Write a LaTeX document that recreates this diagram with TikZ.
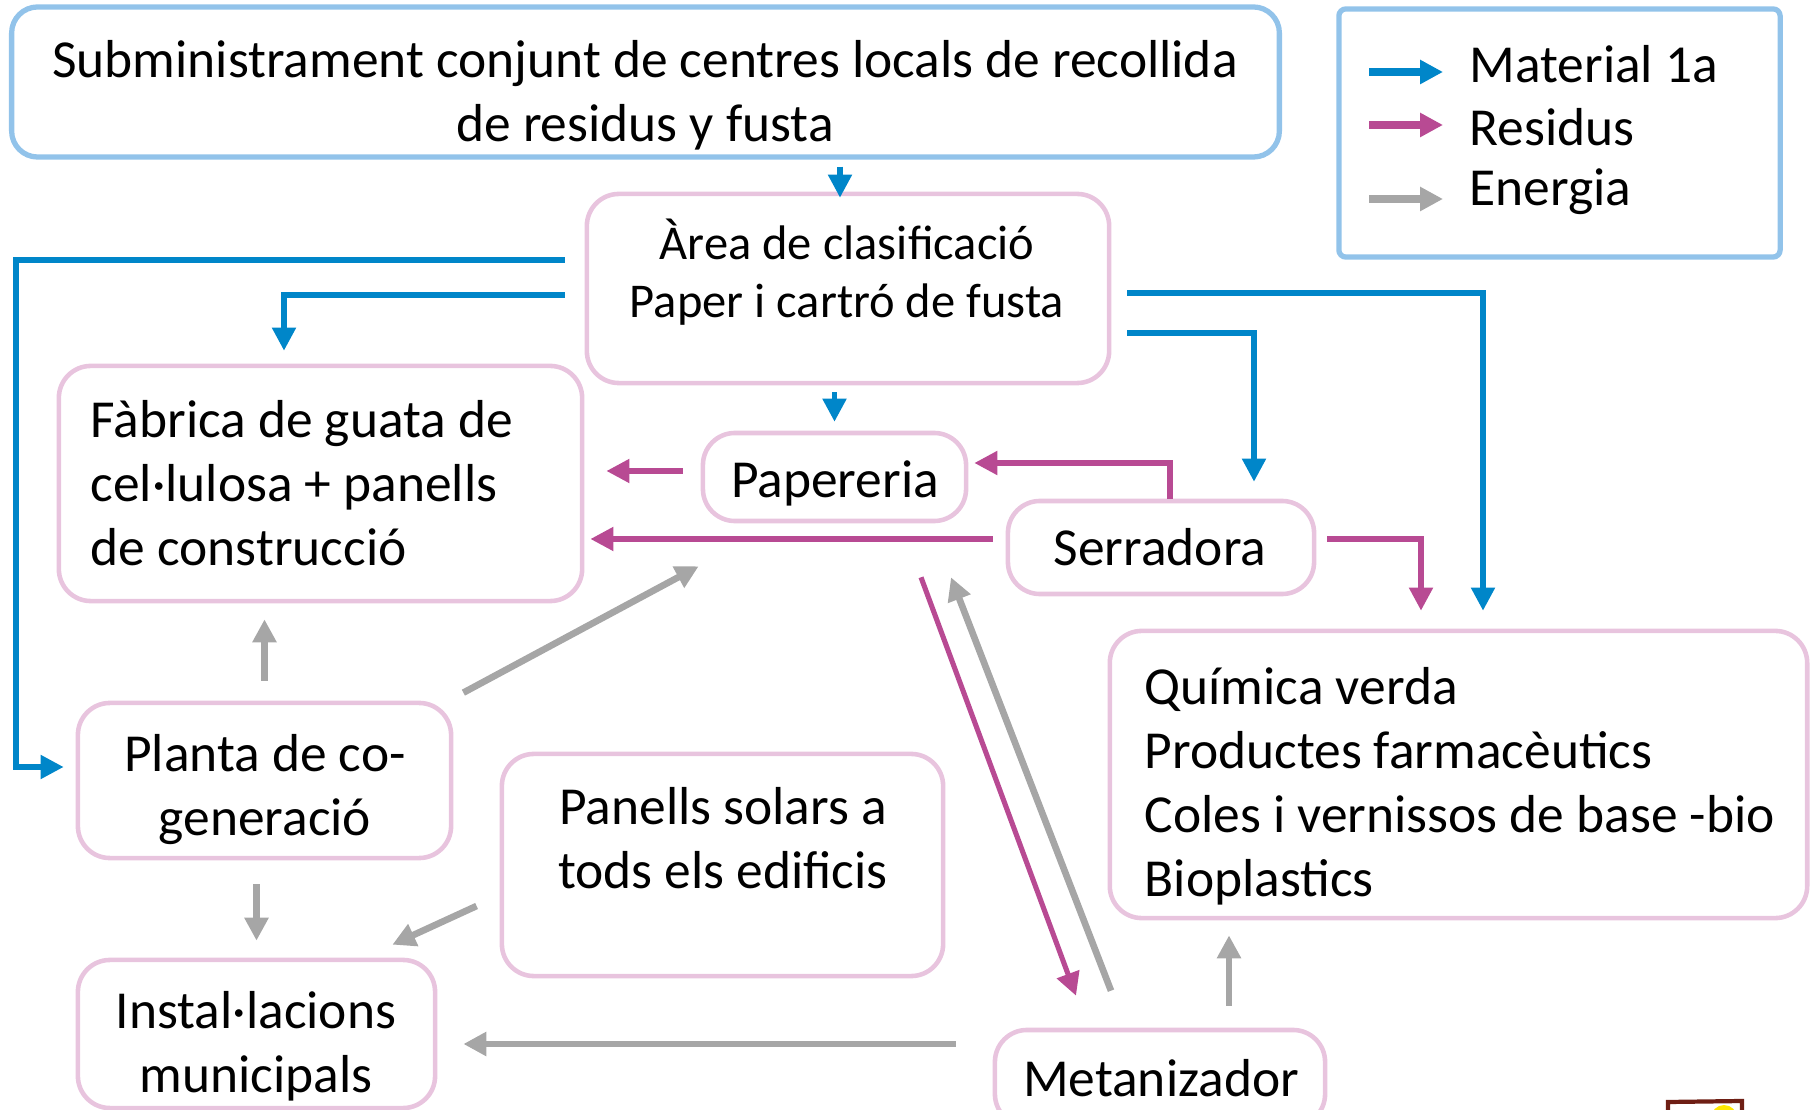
\documentclass[tikz,border=0pt]{standalone}
\usepackage{fontspec}
\setmainfont{Carlito}
\usetikzlibrary{arrows.meta, positioning, calc}

\definecolor{matblue}{RGB}{0,134,201}
\definecolor{resmag}{RGB}{184,74,147}
\definecolor{enegray}{RGB}{166,166,166}
\definecolor{boxpink}{RGB}{232,196,222}
\definecolor{edgeblue}{RGB}{146,195,234}
\definecolor{framebrown}{RGB}{110,30,20}

\begin{document}
\begin{tikzpicture}[
    x=0.01cm, y=-0.01cm,
    font=\fontsize{15.2pt}{18.2pt}\selectfont,
    box/.style={draw=boxpink, line width=1.3pt, rounded corners=0.32cm, inner sep=0pt},
    bluebox/.style={draw=edgeblue, line width=1.5pt, inner sep=0pt},
    txt/.style={inner sep=0pt, align=center},
    tip/.style={-{Triangle[length=0.23cm, width=0.23cm]}},
    mat/.style={tip, draw=matblue, line width=1.45pt},
    res/.style={tip, draw=resmag, line width=1.45pt},
    ene/.style={tip, draw=enegray, line width=1.9pt},
    legarrow/.style={-{Triangle[length=0.23cm, width=0.23cm]}, line width=2pt}
]
\clip (0,0) rectangle (1815,1110);

% Supply
\node[bluebox, rounded corners=0.26cm, minimum width=12.67cm, minimum height=1.5cm] (supply) at (645.5,82) {};
\node[txt] (supplytxt) at (645,95)
  {Subministrament conjunt de centres locals de recollida\\de residus y fusta};

% Legend
\node[bluebox, rounded corners=2pt, minimum width=4.41cm, minimum height=2.48cm] (legend) at (1559.5,133) {};
\node[anchor=west, inner sep=0pt] (lmat) at (1469,64) {Material 1a};
\node[anchor=west, inner sep=0pt] (lres) at (1469,127) {Residus};
\node[anchor=west, inner sep=0pt] (lene) at (1469,192) {Energia};
\draw[legarrow, matblue] ($(lmat.west)+(-100,8)$) -- ($(lmat.west)+(-26,8)$);
\draw[legarrow, resmag] ($(lres.west)+(-100,-2)$) -- ($(lres.west)+(-26,-2)$);
\draw[legarrow, enegray] ($(lene.west)+(-100,7)$) -- ($(lene.west)+(-26,7)$);

% Boxes
\node[box, minimum width=5.22cm, minimum height=1.89cm] (area) at (848,288.5) {};
\node[txt, font=\fontsize{13.8pt}{16.5pt}\selectfont] (areatxt) at (847,272)
  {\`Area de clasificaci\'o\\Paper i cartr\'o de fusta};

\node[box, minimum width=5.23cm, minimum height=2.35cm] (fabrica) at (320.5,483.5) {};
\node[txt, align=left, anchor=west] (fabricatxt) at (90,483.5)
  {F\`abrica de guata de\\cel·lulosa + panells\\de construcci\'o};

\node[box, minimum width=2.63cm, minimum height=0.88cm] (paper) at (834.5,477) {};
\node[txt] (papertxt) at (835,483) {Papereria};

\node[box, minimum width=3.06cm, minimum height=0.93cm] (serra) at (1161,547.5) {};
\node[txt] (serratxt) at (1160,547) {Serradora};

\node[box, minimum width=3.73cm, minimum height=1.55cm] (planta) at (264.5,780.5) {};
\node[txt] (plantatxt) at (265,789.5) {Planta de co-\\generaci\'o};

\node[box, minimum width=4.41cm, minimum height=2.22cm] (panells) at (722.5,865) {};
\node[txt] (panellstxt) at (723,838.5) {Panells solars a\\tods els edificis};

\node[box, minimum width=3.57cm, minimum height=1.48cm] (instal) at (256.5,1034) {};
\node[txt] (instaltxt) at (256,1046) {Instal·lacions\\municipals};

\node[box, minimum width=6.97cm, minimum height=2.87cm] (quimica) at (1458.5,774.5) {};
\node[txt, align=left, anchor=west] (quimicatxt) at (1144,786.5)
  {Qu\'imica verda\\Productes farmac\`eutics\\Coles i vernissos de base -bio\\Bioplastics};

\node[box, minimum width=3.3cm, minimum height=0.96cm] (metan) at (1160,1078) {};
\node[txt] (metantxt) at (1161,1078) {Metanizador};

% Material 1a
\draw[mat, shorten <=0.07cm] ($(area.north |- supply.south)+(-8,0)$) -- ($(area.north)+(-8,6)$);
\draw[mat, shorten >=0.12cm] ($(area.west)+(-20,-28.5)$) -- (16,260) |- ($(planta.west)+(0,-13.5)$);
\draw[mat, shorten >=0.13cm] ($(area.west)+(-20,6.5)$) -| ($(fabrica.north)+(-36.5,0)$);
\draw[mat, shorten <=0.07cm, shorten >=0.09cm] (area.south -| paper.north) -- (paper.north);
\draw[mat, shorten >=0.18cm] ($(area.east)+(16,4.5)$) -| ($(quimica.north)+(24.5,0)$);
\draw[mat, shorten >=0.17cm] ($(area.east)+(16,44.5)$) -| ($(serra.north)+(93,0)$);

% Residus
\draw[res] ($(paper.west)+(-18,-6)$) -- ($(fabrica.east)+(22,-12.5)$);
\draw[res] ($(serra.north)+(9,0)$) |- ($(paper.east)+(6,-14)$);
\draw[res] ($(serra.west)+(-13,-8.5)$) -- ($(fabrica.east)+(6,55.5)$);
\draw[res, shorten >=0.18cm] ($(serra.east)+(11,-8.5)$) -| ($(quimica.north)+(-37.5,0)$);
\draw[res] ($(paper.south)+(86.5,54)$) -- ($(metan.north)+(-84,-32)$);

% Energia
\draw[ene] ($(metan.north)+(-49,-37)$) -- ($(paper.south)+(116.5,54)$);
\draw[ene, shorten <=0.2cm, shorten >=0.16cm] (planta.north) -- (planta.north |- fabrica.south);
\draw[ene] ($(planta.north east)+(10,-8)$) -- ($(paper.south west)+(-2,43)$);
\draw[ene, shorten <=0.24cm, shorten >=0.17cm] (planta.south -| instal.north) -- (instal.north);
\draw[ene] ($(panells.west)+(-23,41)$) -- ($(instal.north east)+(-45,-13)$);
\draw[ene] ($(metan.west)+(-37,-34)$) -- ($(instal.east)+(26,10)$);
\draw[ene] ($(metan.north)+(69,-22)$) -- ($(quimica.south)+(-229.5,15)$);

% picture fragment at the lower edge
\fill[yellow!90!orange] (1724,1118) circle (13);
\draw[framebrown, line width=1.2pt] (1668,1115) -- (1668,1102) -- (1742,1101) -- (1742,1115);
\end{tikzpicture}
\end{document}
